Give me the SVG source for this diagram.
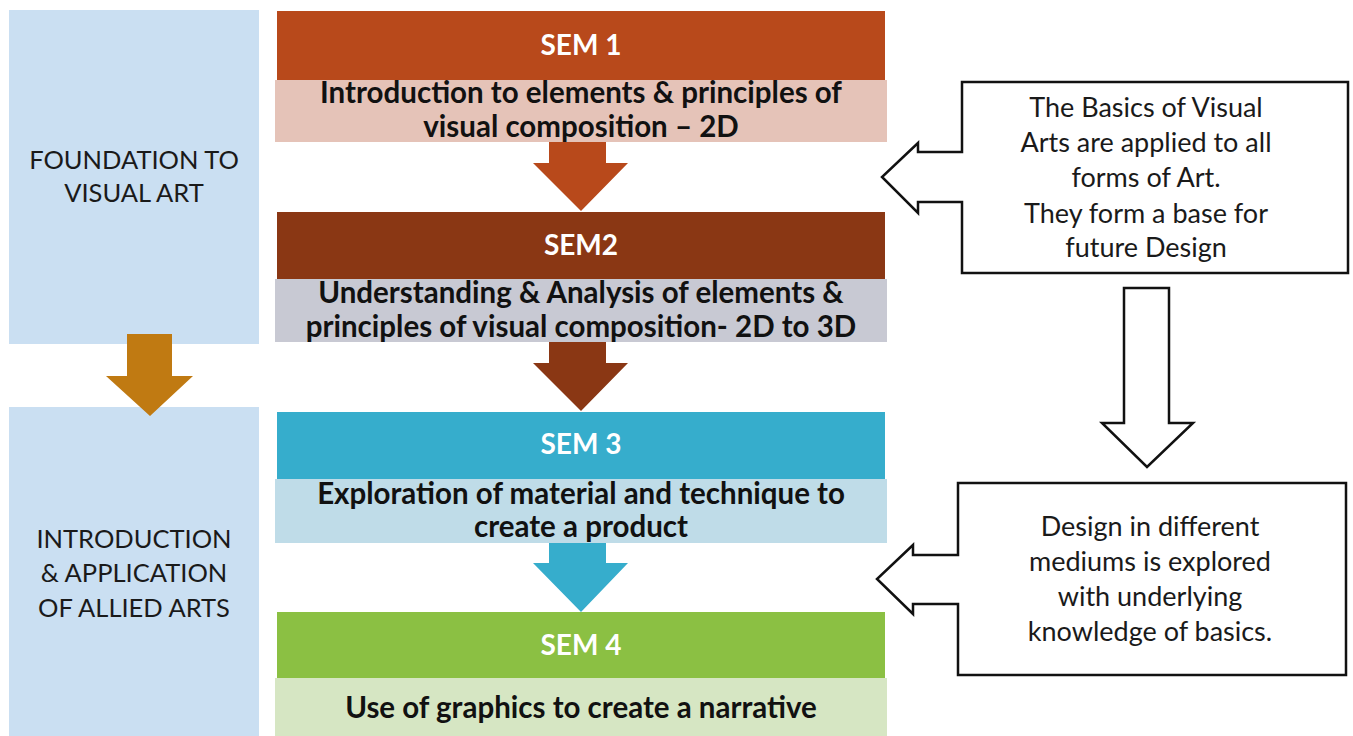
<svg xmlns="http://www.w3.org/2000/svg" width="1353" height="736" viewBox="0 0 1353 736">
<style>
.side{fill:#CADFF2}
.lt{font-family:Lato,"Open Sans",sans-serif;font-size:25.5px;fill:#1a1a1a;text-anchor:middle}
.hd{font-family:Lato,"Open Sans",sans-serif;font-size:28px;font-weight:bold;fill:#ffffff;text-anchor:middle}
.bd{font-family:Lato,"Open Sans",sans-serif;font-size:29.5px;font-weight:bold;fill:#111111;text-anchor:middle}
.ct{font-family:Lato,"Open Sans",sans-serif;font-size:27px;fill:#1a1a1a;text-anchor:middle}
.call{fill:#ffffff;stroke:#111111;stroke-width:2.5}
</style>
<rect width="1353" height="736" fill="#ffffff"/>
<g id="foundation">
<rect class="side" x="9" y="10" width="250" height="334"/>
<text class="lt" x="134" y="169">FOUNDATION TO</text>
<text class="lt" x="134" y="202">VISUAL ART</text>
</g>
<g id="allied">
<rect class="side" x="9" y="407" width="250" height="329"/>
<text class="lt" x="134" y="548">INTRODUCTION</text>
<text class="lt" x="134" y="582">&amp; APPLICATION</text>
<text class="lt" x="134" y="617">OF ALLIED ARTS</text>
</g>
<g id="sem1">
<rect x="277" y="11" width="608" height="69" fill="#B8491B"/>
<rect x="275" y="80" width="612" height="62" fill="#E5C3B8"/>
<text class="hd" x="581" y="55">SEM 1</text>
<text class="bd" x="581" y="103">Introduction to elements &amp; principles of</text>
<text class="bd" x="581" y="137">visual composition  – 2D</text>
</g>
<g id="sem2">
<rect x="277" y="212" width="608" height="67" fill="#8A3714"/>
<rect x="275" y="279" width="612" height="63" fill="#C8C9D3"/>
<text class="hd" x="581" y="255">SEM2</text>
<text class="bd" x="581" y="303">Understanding &amp; Analysis of elements &amp;</text>
<text class="bd" x="581" y="337">principles of visual composition-  2D to 3D</text>
</g>
<g id="sem3">
<rect x="277" y="412" width="608" height="67" fill="#36ADCC"/>
<rect x="275" y="479" width="612" height="64" fill="#BFDCE8"/>
<text class="hd" x="581" y="454">SEM 3</text>
<text class="bd" x="581" y="504">Exploration of material and technique to</text>
<text class="bd" x="581" y="537">create a product</text>
</g>
<g id="sem4">
<rect x="277" y="612" width="608" height="66" fill="#8BC043"/>
<rect x="275" y="678" width="612" height="58" fill="#D6E6C3"/>
<text class="hd" x="581" y="655">SEM 4</text>
<text class="bd" x="581" y="718">Use of graphics to create a narrative</text>
</g>
<g id="callout1">
<path class="call" d="M962,82 H1348 V273 H962 V202 H918 V213 L882,177 L918,143 V152 H962 Z"/>
<text class="ct" x="1146" y="117">The Basics of Visual</text>
<text class="ct" x="1146" y="152">Arts are applied to all</text>
<text class="ct" x="1146" y="187">forms of Art.</text>
<text class="ct" x="1146" y="223">They form a base for</text>
<text class="ct" x="1146" y="257">future Design</text>
</g>
<g id="callout2">
<path class="call" d="M958,483 H1346 V675 H958 V604 H913 V614 L877,579 L913,545 V555 H958 Z"/>
<text class="ct" x="1150" y="536">Design in different</text>
<text class="ct" x="1150" y="571">mediums is explored</text>
<text class="ct" x="1150" y="606">with underlying</text>
<text class="ct" x="1150" y="641">knowledge of basics.</text>
</g>
<g id="connectors">
<path d="M127,334 H172 V376 H193 L150,416 L106,376 H127 Z" fill="#C07A12"/>
<path d="M549,142 H606 V163 H628 L581,211 L533,163 H549 Z" fill="#B8491B"/>
<path d="M549,342 H606 V363 H628 L581,411 L533,363 H549 Z" fill="#8A3714"/>
<path d="M549,543 H606 V563 H628 L581,612 L533,563 H549 Z" fill="#36ADCC"/>
<path class="call" d="M1124,288 H1169 V423 H1193 L1147,467 L1102,423 H1124 Z"/>
</g>
</svg>
